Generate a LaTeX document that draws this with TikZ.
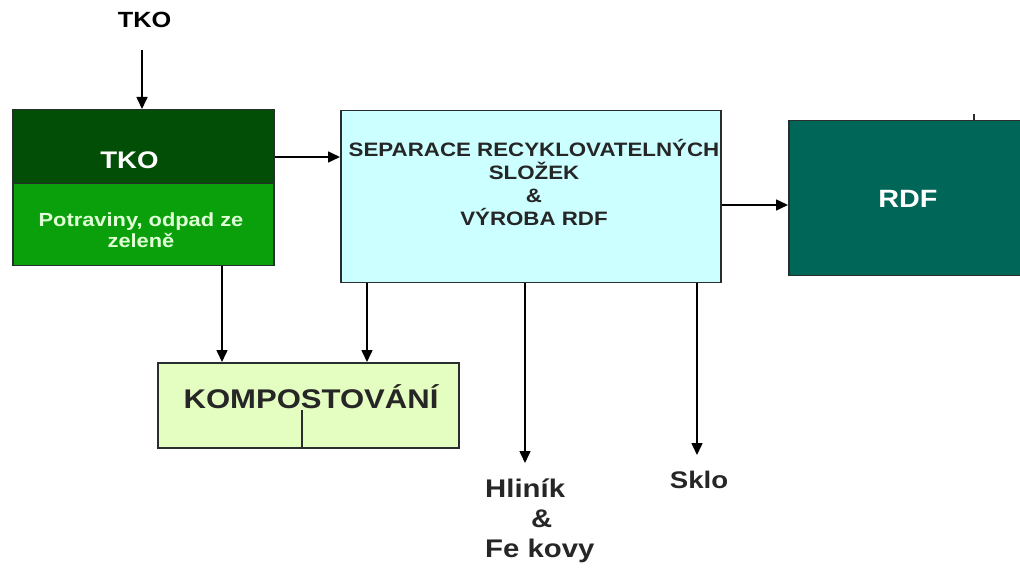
\documentclass[tikz,border=0pt]{standalone}
\usepackage{fontspec}
\newfontfamily\af{Liberation Sans}[FakeStretch=1.15]
\usetikzlibrary{arrows.meta,calc}
\definecolor{tkodark}{RGB}{2,78,6}
\definecolor{tkolight}{RGB}{10,160,12}
\definecolor{tkotext}{RGB}{225,255,215}
\definecolor{sepfill}{RGB}{204,255,255}
\definecolor{kompfill}{RGB}{228,253,192}
\definecolor{rdffill}{RGB}{0,102,88}
\definecolor{edge}{RGB}{40,45,45}
\tikzset{
  box/.style={draw=edge, line width=1.5pt, inner sep=0pt, anchor=north west},
  txt/.style={inner sep=0pt, font=\af\bfseries},
  arr/.style={draw=black, line width=1.6pt, -{Triangle[length=12pt,width=11pt]}},
  thin/.style={draw=edge, line width=1.2pt}
}
\begin{document}
\begin{tikzpicture}[x=1pt,y=-1pt]
\useasboundingbox[fill=white] (0,0) rectangle (1020,569);
% boxes
\node[box, fill=tkodark, minimum width=261pt, minimum height=74pt] (tkotop) at (12,109) {};
\node[box, fill=tkolight, minimum width=261pt, minimum height=82pt] (tkobot) at (12,183) {};
\node[box, fill=sepfill, minimum width=380pt, minimum height=172pt] (sep) at (340,110) {};
\node[box, fill=kompfill, minimum width=301pt, minimum height=85pt] (komp) at (157,362) {};
\node[box, fill=rdffill, minimum width=240pt, minimum height=155pt] (rdf) at (788,120) {};
% texts
\node[txt, font=\af\bfseries\fontsize{22}{26}\selectfont] (tkolabel) at (144.5,20) {TKO};
\node[txt, text=white, font=\af\bfseries\fontsize{24}{28}\selectfont] (tkotxt) at (129.5,160.5) {TKO};
\node[txt, text=tkotext, align=center, anchor=base, font=\af\bfseries\fontsize{19}{21}\selectfont] (potr) at (141,248) {Potraviny, odpad ze\\zeleně};
\node[txt, text=black!85, align=center, anchor=base, font=\af\bfseries\fontsize{19.4}{23}\selectfont] (septxt) at (534,226) {SEPARACE RECYKLOVATELNÝCH\\SLOŽEK\\\&\\VÝROBA RDF};
\node[txt, text=black!85, font=\af\bfseries\fontsize{27}{30}\selectfont] (komptxt) at (311,397) {KOMPOSTOVÁNÍ};
\node[txt, text=white, font=\af\bfseries\fontsize{25}{30}\selectfont] (rdftxt) at (908,199) {RDF};
\node[txt, text=black!85, align=left, anchor=base west, font=\af\bfseries\fontsize{25.5}{30}\selectfont] (hlinik) at (485,557) {Hliník\\\hspace*{1.8em}\&\\Fe kovy};
\node[txt, text=black!85, font=\af\bfseries\fontsize{24}{28}\selectfont] (sklo) at (699,480) {Sklo};
% inner line of komp box and tick
\draw[thin] (komp.south -| 302,0) -- (302,410);
\draw[thin] (rdf.north -| 974,0) -- (974,114);
% connectors
\coordinate (tkoin) at (142,50);
\draw[arr] (tkoin) -- (tkotop.north -| tkoin);
\draw[arr] (tkotop.east |- 0,157) -- (sep.west |- 0,157);
\draw[arr] (sep.east |- 0,205) -- (rdf.west |- 0,205);
\draw[arr] (tkobot.south -| 222,0) -- (komp.north -| 222,0);
\draw[arr] (sep.south -| 367,0) -- (komp.north -| 367,0);
\coordinate (hend) at (525,463);
\draw[arr] (sep.south -| hend) -- (hend);
\coordinate (send) at (697,455);
\draw[arr] (sep.south -| send) -- (send);
\end{tikzpicture}
\end{document}
